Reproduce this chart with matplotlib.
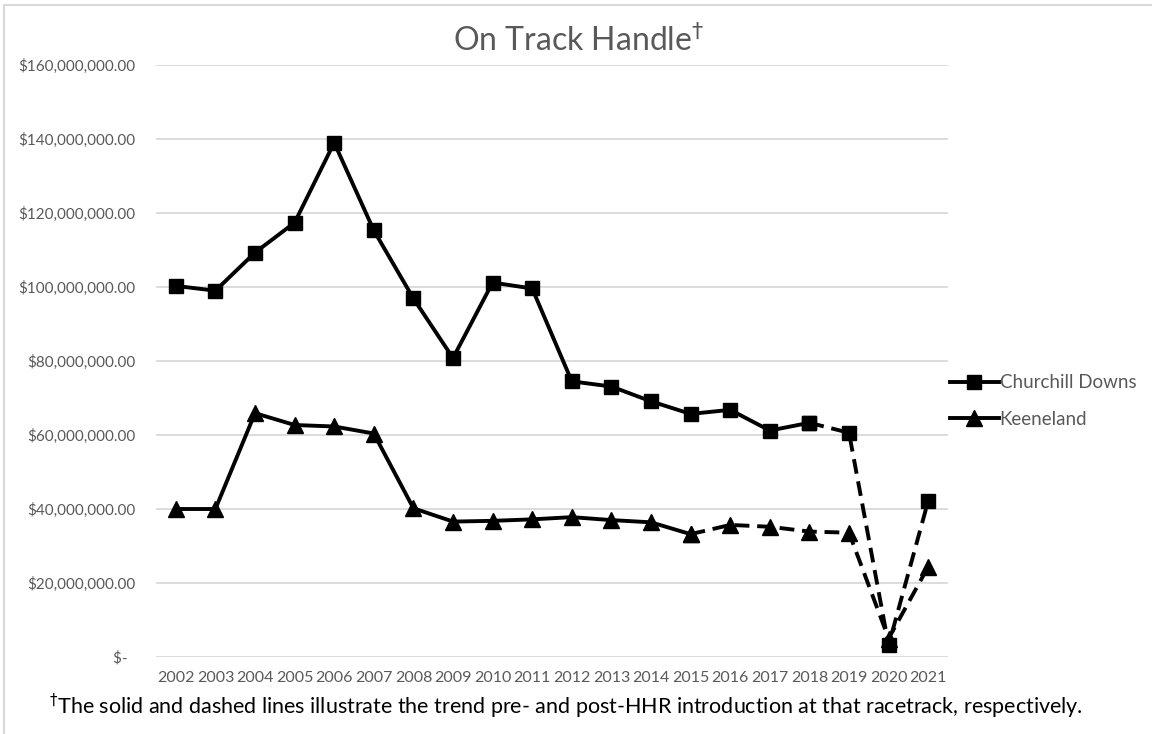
import matplotlib
matplotlib.use("Agg")
import matplotlib.pyplot as plt
from matplotlib.patches import Rectangle

plt.rcParams['font.family'] = ['Lato', 'DejaVu Sans']

# Data, on-track handle in dollars
years = [str(y) for y in range(2002, 2022)]
churchill = [100.3e6, 99.0e6, 109.3e6, 117.4e6, 139.0e6, 115.3e6, 96.9e6, 80.8e6,
             101.2e6, 99.6e6, 74.5e6, 73.1e6, 69.1e6, 65.7e6, 66.8e6, 61.2e6,
             63.3e6, 60.6e6, 3.2e6, 42.2e6]
keeneland = [40.0e6, 40.0e6, 65.9e6, 62.7e6, 62.3e6, 60.4e6, 40.2e6, 36.6e6,
             36.8e6, 37.2e6, 37.8e6, 37.0e6, 36.4e6, 33.2e6, 35.7e6, 35.2e6,
             33.9e6, 33.6e6, 5.0e6, 24.4e6]
# index of the last year drawn with a solid line (pre-HHR)
churchill_last_solid = years.index("2018")
keeneland_last_solid = years.index("2015")

y_ticks = [0, 20e6, 40e6, 60e6, 80e6, 100e6, 120e6, 140e6, 160e6]
y_tick_labels = ["$-  ", "$20,000,000.00", "$40,000,000.00", "$60,000,000.00",
                 "$80,000,000.00", "$100,000,000.00", "$120,000,000.00",
                 "$140,000,000.00", "$160,000,000.00"]

GREY = "#595959"
GRID = "#d9d9d9"

fig = plt.figure(figsize=(11.52, 7.34), dpi=100)
ax = fig.add_axes([156 / 1152, 1 - 657 / 734, 792 / 1152, 592 / 734])

x = list(range(len(years)))
dash = (0, (3.8, 2))
style = dict(color="black", lw=2.8)

# Churchill Downs
c = churchill_last_solid
h_cd, = ax.plot(x[:c + 1], churchill[:c + 1], marker="s", ms=10.5, **style,
                label="Churchill Downs")
ax.plot(x[c:], churchill[c:], marker="s", ms=10.5, linestyle=dash, **style)

# Keeneland
k = keeneland_last_solid
h_kl, = ax.plot(x[:k + 1], keeneland[:k + 1], marker="^", ms=11, **style,
                label="Keeneland")
ax.plot(x[k:], keeneland[k:], marker="^", ms=11, linestyle=dash, **style)

ax.set_xlim(-0.5, len(years) - 0.5)
ax.set_ylim(0, 160e6)
ax.set_xticks(x)
ax.set_xticklabels(years)
ax.set_yticks(y_ticks)
ax.set_yticklabels(y_tick_labels)
ax.tick_params(axis="both", length=0, colors=GREY)
ax.tick_params(axis="y", pad=15, labelsize=11)
ax.tick_params(axis="x", pad=10, labelsize=11.5)
ax.grid(axis="y", color=GRID, lw=1.3)
ax.set_axisbelow(True)
for s in ax.spines.values():
    s.set_visible(False)

fig.text(579 / 1152, 1 - 41 / 734, r"On Track Handle$^{\dagger}$", ha="center",
         va="center", fontsize=23, color=GREY)

fig.legend(handles=[h_cd, h_kl], loc="center left",
           bbox_to_anchor=(950 / 1152, 1 - 401 / 734), frameon=False,
           borderpad=0, borderaxespad=0, handlelength=2.6, handletextpad=0.05,
           labelspacing=1.05, fontsize=13.5, labelcolor=GREY)

fig.text(566 / 1152, 1 - 706 / 734,
         r"$^{\dagger}$The solid and dashed lines illustrate the trend pre- and "
         "post-HHR introduction at that racetrack, respectively.",
         ha="center", va="center", fontsize=15.5, color="black")

# chart-area border (only top and left edges fall inside the picture)
fig.patches.append(Rectangle((4 / 1152, -0.1), 1.2, 1.1 - 5 / 734,
                             transform=fig.transFigure, fill=False,
                             edgecolor=GRID, lw=1.5))

fig.savefig("out.png", dpi=100, facecolor="white")
